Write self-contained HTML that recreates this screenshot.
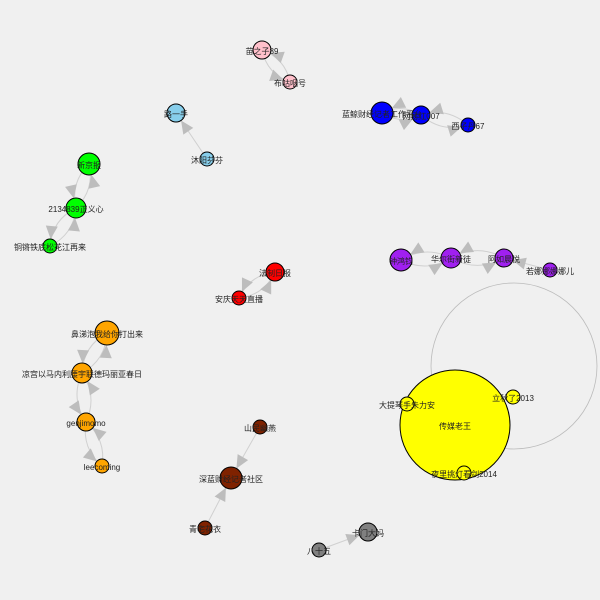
<!DOCTYPE html>
<html><head><meta charset="utf-8"><style>
html,body{margin:0;padding:0;background:#f0f0f0}
svg{display:block}
text{font-family:"Liberation Sans","Noto Sans CJK SC",sans-serif;font-size:8px;fill:#222}
</style></head><body>
<svg id="g" width="600" height="600" viewBox="0 0 600 600">
<rect width="600" height="600" fill="#f0f0f0"/>
<circle cx="514" cy="366" r="83" fill="none" stroke="#bbb" stroke-width="0.8"/>
<g id="edges"></g><g id="nodes"></g>
</svg>
<script>
const nodeNames=["苗之子89","布咕咽号","路一手","沐阳芬芬","新京报","2134839正义心","铜锵铁底松花江再来","蓝鲸财经记者工作平台","网易红007","西子丹67","钟鸿钧","华尔街新徒","阿如晨悦","若娜娜娜娜儿","法制日报","安庆天天直播","鼻涕泡我给你打出来","凉宫以马内利腰宇联德玛丽亚春日","genjimomo","leecoming","山民幽燕","深蓝财经记者社区","青宅花衣","卡门大妈","八十五","传媒老王","大提琴手朱力安","立秋了2013","夜里挑灯看剑2014"];
const nodeX=[262,290,176,207,89,76,50,382,421,468,401,451,504,550,275,239,107,82,86,102,260,231,205,368,319,455,407,513,464];
const nodeY=[50,82,113,159,164,208,246,113,115,125,260,258,258,270,272,298,333,373,422,466,427,478,528,532,550,425,404,397,473];
const nodeSize=[9,7,9,7,11,10,7,11,9,7,11,10,9,7,9,7,12,10,9,7,7,11,7,9,7,55,7,7,7];
const nodeGroup=[0,0,1,1,2,2,2,3,3,3,4,4,4,4,5,5,6,6,6,6,7,7,7,8,8,9,9,9,9];
const groupColors=["#ffc0cb","#87ceeb","#00ff00","#0000ff","#a020f0","#ff0000","#ffa500","#7f2200","#808080","#ffff00"];
const edgeFrom=[1,0,3,5,4,6,5,8,7,9,8,11,10,12,11,13,15,14,17,16,18,17,19,18,20,22,24];
const edgeTo=[0,1,2,4,5,5,6,7,8,8,9,10,11,11,12,12,14,15,16,17,17,18,18,19,21,21,23];
const ns="http://www.w3.org/2000/svg";
const E=document.getElementById('edges'),N=document.getElementById('nodes');
for(let i=0;i<edgeFrom.length;i++){
  const a=edgeFrom[i],b=edgeTo[i];
  let mutual=false;
  for(let j=0;j<edgeFrom.length;j++) if(edgeFrom[j]===b&&edgeTo[j]===a) mutual=true;
  const x1=nodeX[a],y1=nodeY[a],x2=nodeX[b],y2=nodeY[b];
  const dx=x2-x1,dy=y2-y1,L=Math.hypot(dx,dy);
  const px=-dy/L,py=dx/L,off=mutual?L*0.28:0;
  const cx=(x1+x2)/2+px*off,cy=(y1+y2)/2+py*off;
  const p=document.createElementNS(ns,'path');
  p.setAttribute('d',`M${x1},${y1} Q${cx},${cy} ${x2},${y2}`);
  p.setAttribute('fill','none');p.setAttribute('stroke','#d0d0d0');p.setAttribute('stroke-width','1');
  
  
  E.appendChild(p);
  let tx=x2-cx,ty=y2-cy;const tl=Math.hypot(tx,ty);tx/=tl;ty/=tl;
  const r=nodeSize[b];
  const hx=x2-tx*r,hy=y2-ty*r,bx=hx-tx*13,by=hy-ty*13;
  const t=document.createElementNS(ns,'polygon');
  t.setAttribute('points',`${hx},${hy} ${bx-ty*6},${by+tx*6} ${bx+ty*6},${by-tx*6}`);
  t.setAttribute('fill','#bdbdbd');
  
  
  E.appendChild(t);
}
for(let i=0;i<nodeNames.length;i++){
  const c=document.createElementNS(ns,'circle');
  c.setAttribute('cx',nodeX[i]);c.setAttribute('cy',nodeY[i]);c.setAttribute('r',nodeSize[i]);
  c.setAttribute('fill',groupColors[nodeGroup[i]]);c.setAttribute('stroke','#000');c.setAttribute('stroke-width','1');
  
  
  N.appendChild(c);
}
for(let i=0;i<nodeNames.length;i++){
  const t=document.createElementNS(ns,'text');
  t.setAttribute('x',nodeX[i]);t.setAttribute('y',nodeY[i]+4);t.setAttribute('text-anchor','middle');
  t.textContent=nodeNames[i];
  
  
  N.appendChild(t);
}
</script>
</body></html>
